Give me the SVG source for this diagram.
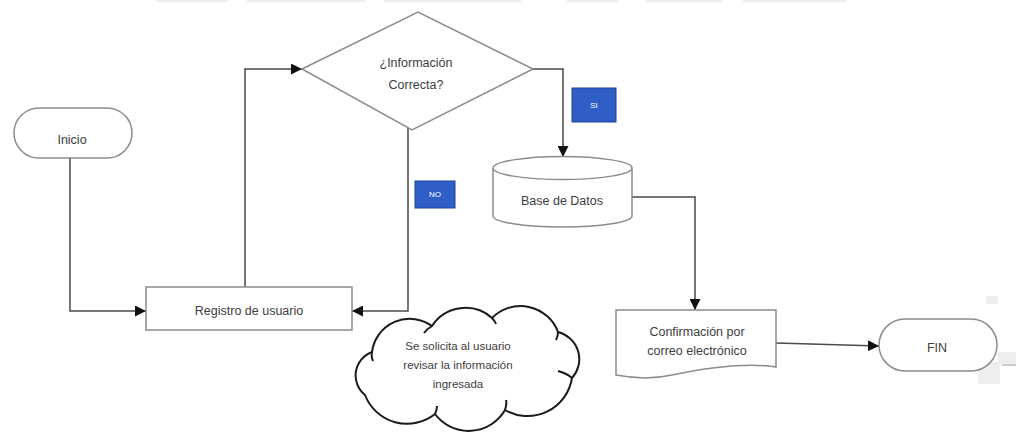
<svg xmlns="http://www.w3.org/2000/svg" width="1016" height="443" viewBox="0 0 1016 443">
  <style>
    .shape { fill: #ffffff; stroke: #8c8c8c; stroke-width: 1.5; }
    .conn { fill: none; stroke: #4a4a4a; stroke-width: 1.5; }
    .lbl { font-family: "Liberation Sans", Arial, sans-serif; font-size: 12.5px; fill: #3c3c3c; text-anchor: middle; }
    .small { font-size: 11.5px; }
    .tag { fill: #2f5fc6; stroke: #1d439a; stroke-width: 1; }
    .tagtxt { font-family: "Liberation Sans", Arial, sans-serif; font-size: 8px; fill: #ffffff; text-anchor: middle; }
    .cloud { fill: #ffffff; stroke: #1a1a1a; stroke-width: 2; stroke-linejoin: round; }
    .haze { fill: #eeeeee; }
  </style>
  <defs>
    <marker id="arrowL" viewBox="0 0 10 10" refX="10" refY="5" markerWidth="11" markerHeight="11" markerUnits="userSpaceOnUse" orient="auto">
      <path d="M0,0 L10,5 L0,10 Z" fill="#111111"/>
    </marker>
  </defs>

  <rect width="1016" height="443" fill="#ffffff"/>

  <!-- faint remnants along the edges -->
  <g id="edge-remnants">
    <rect class="haze" x="156" y="0" width="72" height="2"/>
    <rect class="haze" x="247" y="0" width="118" height="2"/>
    <rect class="haze" x="384" y="0" width="137" height="2"/>
    <rect class="haze" x="567" y="0" width="52" height="2"/>
    <rect class="haze" x="645" y="0" width="78" height="2"/>
    <rect class="haze" x="743" y="0" width="104" height="2"/>
    <rect class="haze" x="986" y="296" width="12" height="8"/>
    <rect class="haze" x="998" y="352" width="18" height="12"/>
    <rect class="haze" x="978" y="362" width="22" height="22"/>
    <line x1="1002" y1="365" x2="1016" y2="365" stroke="#9a9a9a" stroke-width="1"/>
  </g>

  <!-- connectors -->
  <g id="connectors">
    <polyline class="conn" points="70,158 70,311 146,311" marker-end="url(#arrowL)"/>
    <polyline class="conn" points="245,287 245,69 302,69" marker-end="url(#arrowL)"/>
    <polyline class="conn" points="408,123 408,311 352,311" marker-end="url(#arrowL)"/>
    <polyline class="conn" points="533,69 563,69 563,157" marker-end="url(#arrowL)"/>
    <polyline class="conn" points="632,197 695,197 695,310" marker-end="url(#arrowL)"/>
    <line class="conn" x1="776" y1="343" x2="879" y2="346" marker-end="url(#arrowL)"/>
  </g>

  <g id="inicio">
    <rect class="shape" x="14" y="108" width="118" height="50" rx="25" ry="25"/>
    <text class="lbl" x="72" y="144">Inicio</text>
  </g>

  <g id="registro">
    <rect class="shape" x="146" y="287" width="206" height="43"/>
    <text class="lbl" x="249" y="315">Registro de usuario</text>
  </g>

  <g id="decision">
    <polygon class="shape" points="302,69 418,12 533,69 412,130"/>
    <text class="lbl" x="416" y="67">¿Información</text>
    <text class="lbl" x="416" y="89">Correcta?</text>
  </g>

  <g id="tag-si">
    <rect class="tag" x="572" y="88" width="44" height="34"/>
    <text class="tagtxt" x="594" y="108">SI</text>
  </g>

  <g id="tag-no">
    <rect class="tag" x="415" y="181" width="40" height="27"/>
    <text class="tagtxt" x="435" y="197">NO</text>
  </g>

  <g id="base-datos">
    <path class="shape" d="M493,168 A69.5,11.5 0 0 1 632,168 V216 A69.5,11 0 0 1 493,216 Z"/>
    <path class="shape" fill="none" d="M493,168 A69.5,11.5 0 0 0 632,168"/>
    <text class="lbl" x="562" y="205">Base de Datos</text>
  </g>

  <g id="confirmacion">
    <path class="shape" d="M616,310 H776 V367 C745,362 705,368 672,375 C650,380 632,378 616,375 Z"/>
    <text class="lbl" x="697" y="336">Confirmación por</text>
    <text class="lbl" x="697" y="355">correo electrónico</text>
  </g>

  <g id="fin">
    <rect class="shape" x="879" y="319" width="118" height="52" rx="26" ry="26"/>
    <text class="lbl" x="937" y="352">FIN</text>
  </g>

  <g id="nota">
    <path class="cloud" d="M365,395 A25,25 0 0 1 372,352 A38,38 0 0 1 432,326 A40,40 0 0 1 492,318 A40,40 0 0 1 558,332 A28,28 0 0 1 572,378 A45,45 0 0 1 505,410 A42,42 0 0 1 435,414 A45,45 0 0 1 365,395 Z"/>
    <path fill="none" stroke="#1a1a1a" stroke-width="2" d="M372,352 Q371,357 373,361 M432,326 Q427,329 424,333 M492,318 Q495,321 496,324 M558,332 Q558,336 556,340 M572,378 Q566,373 558,371 M505,410 Q507,404 506,400 M435,414 Q437,410 437,406"/>
    <text class="lbl small" x="458" y="350">Se solicita al usuario</text>
    <text class="lbl small" x="458" y="369">revisar la información</text>
    <text class="lbl small" x="458" y="388">ingresada</text>
  </g>
</svg>
